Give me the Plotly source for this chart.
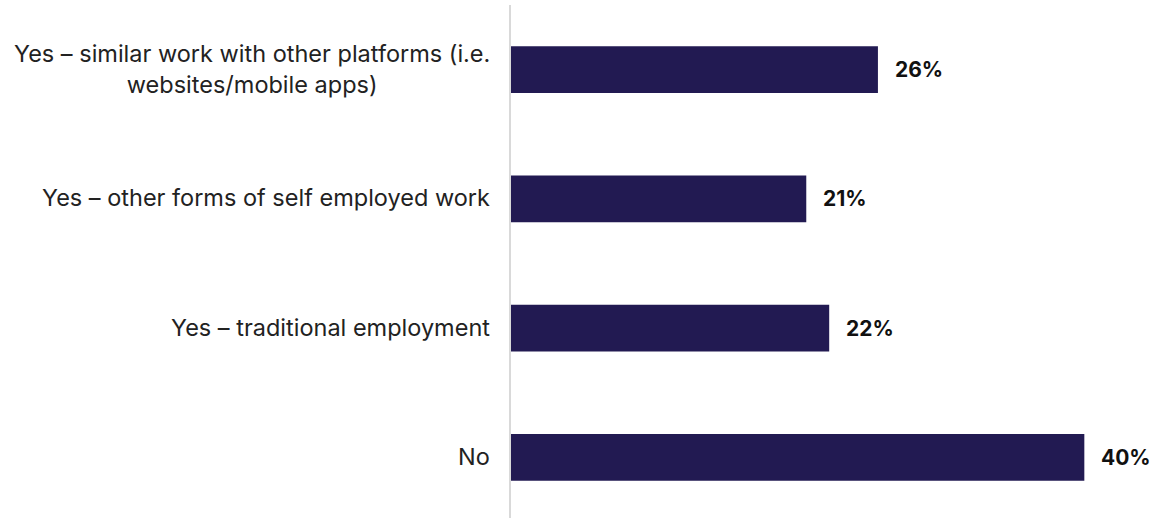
import plotly.graph_objects as go

categories = [
    "Yes – similar work with other platforms (i.e.<br>websites/mobile apps)",
    "Yes – other forms of self employed work",
    "Yes – traditional employment",
    "No",
]
values = [25.6, 20.6, 22.2, 40.0]
labels = ["26%", "21%", "22%", "40%"]

bar_color = "#221a52"
font_family = "Inter, Roboto, 'Noto Sans', sans-serif"

fig = go.Figure()
fig.add_trace(go.Bar(
    x=values,
    y=categories,
    orientation="h",
    marker=dict(color=bar_color, line=dict(width=0)),
    width=0.36,
    hoverinfo="skip",
))

annotations = []
for cat, v, lab in zip(categories, values, labels):
    annotations.append(dict(
        x=v, y=cat, xref="x", yref="y", text="<b>" + lab + "</b>",
        showarrow=False, xanchor="left", xshift=15,
        font=dict(family=font_family, size=21, color="#111111"),
    ))
    annotations.append(dict(
        x=0, y=cat, xref="paper", yref="y", text=cat,
        showarrow=False, xanchor="right", xshift=-19, align="center",
        yshift=1,
        font=dict(family=font_family, size=23.5, color="#222222"),
    ))

fig.update_layout(
    width=1159, height=523,
    margin=dict(l=511, r=46, t=5, b=1),
    paper_bgcolor="white", plot_bgcolor="white",
    showlegend=False,
    annotations=annotations,
    xaxis=dict(range=[0, 42], showgrid=False, zeroline=False,
               showticklabels=False, showline=False, fixedrange=True),
    yaxis=dict(autorange="reversed", showgrid=False, zeroline=False,
               showticklabels=False, showline=True, linecolor="#d9d9d9",
               linewidth=2, ticks="", fixedrange=True),
)

fig.write_html(
    "out.html",
    config={"displayModeBar": False},
    post_script="document.body.style.margin='0';document.body.style.overflow='hidden';",
)
